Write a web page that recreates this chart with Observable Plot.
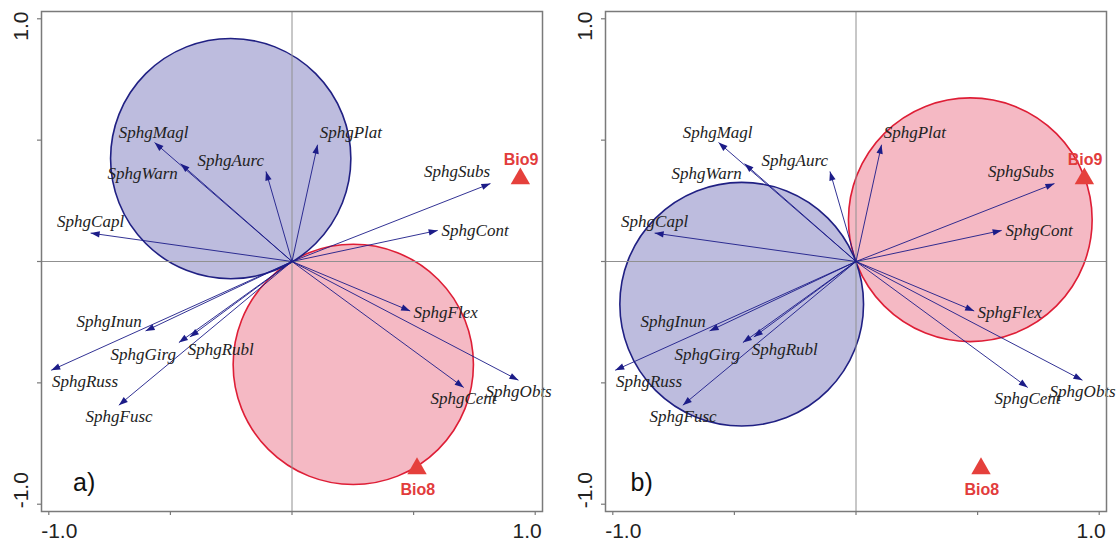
<!DOCTYPE html>
<html>
<head>
<meta charset="utf-8">
<script src="https://cdn.jsdelivr.net/npm/d3@7"></script>
<script src="https://cdn.jsdelivr.net/npm/@observablehq/plot@0.6"></script>
<style>
  html, body { margin: 0; padding: 0; background: #fff; }
  #wrap { display: flex; flex-direction: row; width: 1118px; height: 543px; }
  #wrap svg { display: block; }
</style>
</head>
<body>
<div id="wrap"></div>
<script>
// Species (arrow) scores — same in both panels
const species = ["SphgMagl","SphgWarn","SphgAurc","SphgPlat","SphgCapl","SphgSubs","SphgCont","SphgFlex","SphgCent","SphgObts","SphgInun","SphgGirg","SphgRubl","SphgRuss","SphgFusc"];
const tipX = [-0.565,-0.458,-0.107,0.105,-0.828,0.816,0.599,0.486,0.706,0.931,-0.602,-0.465,-0.420,-0.990,-0.712];
const tipY = [0.490,0.403,0.371,0.481,0.117,0.321,0.128,-0.204,-0.519,-0.489,-0.286,-0.334,-0.311,-0.448,-0.592];
const labelX = [-0.569,-0.614,-0.252,0.242,-0.828,0.679,0.753,0.632,0.705,0.932,-0.752,-0.612,-0.293,-0.851,-0.711];
const labelY = [0.533,0.364,0.417,0.532,0.163,0.369,0.128,-0.209,-0.565,-0.537,-0.249,-0.382,-0.362,-0.496,-0.637];

// Environmental variables
const envNames = ["Bio9","Bio8"];
const envX = [0.939, 0.514];
const envY = [0.341, -0.853];
const envLabelX = [0.942, 0.517];
const envLabelY = [0.420, -0.942];

// Van Dobben circles per panel
const panelTags = ["a)", "b)"];
const circleKind = ["red", "blue"];
const circleCxA = [0.252, -0.252];
const circleCyA = [-0.424, 0.424];
const circleRA = [0.494, 0.494];
const circleCxB = [0.470, -0.470];
const circleCyB = [0.172, -0.176];
const circleRB = [0.501, 0.501];

// Axis ticks
const tickValues = [-1, -0.5, 0, 0.5, 1];
const tickLabels = ["-1.0", "1.0"];
const tickLabelValues = [-1, 1];

const DOMAIN = [-1.03, 1.03];
const NAVY = "#1c1c88";

const headSymbol = {
  draw(context) {
    context.moveTo(0, 0);
    context.lineTo(3.2, 9);
    context.lineTo(-3.2, 9);
    context.closePath();
  }
};

function panel(opts) {
  const W = 559, H = 543;
  const ml = opts.ml, mr = opts.mr, mt = 11, mb = 32;
  const k = (W - ml - mr) / (DOMAIN[1] - DOMAIN[0]);
  const idx = d3.range(species.length);
  const cidx = d3.range(circleKind.length);
  const eidx = d3.range(envNames.length);
  const cfill = {red: "#f5b9c4", blue: "#bdbcde"};
  const cstroke = {red: "#de1e36", blue: "#202083"};
  const axisFont = {fontFamily: "Liberation Sans", fontSize: 21, fill: "#222", textAnchor: "middle", lineAnchor: "middle"};
  return Plot.plot({
    width: W, height: H,
    marginLeft: ml, marginRight: mr, marginTop: mt, marginBottom: mb,
    x: {domain: DOMAIN, axis: null},
    y: {domain: DOMAIN, axis: null},
    r: {type: "linear", domain: [0, 1], range: [0, k]},
    style: {background: "white", overflow: "visible"},
    marks: [
      Plot.dot(cidx, {
        x: i => opts.cx[i], y: i => opts.cy[i], r: i => opts.r[i],
        fill: i => cfill[circleKind[i]], stroke: i => cstroke[circleKind[i]],
        strokeWidth: 1.6, fillOpacity: 1
      }),
      Plot.ruleX([0], {stroke: "#909090", strokeWidth: 1}),
      Plot.ruleY([0], {stroke: "#909090", strokeWidth: 1}),
      Plot.link(idx, {
        x1: 0, y1: 0, x2: i => tipX[i], y2: i => tipY[i],
        stroke: NAVY, strokeWidth: 1, strokeOpacity: 0.9
      }),
      Plot.dot(idx, {
        x: i => tipX[i], y: i => tipY[i],
        symbol: headSymbol, r: 3, fill: NAVY, stroke: "none",
        rotate: i => Math.atan2(tipX[i], tipY[i]) * 180 / Math.PI
      }),
      Plot.text(idx, {
        x: i => labelX[i], y: i => labelY[i], text: i => species[i],
        fontFamily: "Liberation Serif", fontStyle: "italic", fontSize: 17,
        fill: "#222", textAnchor: "middle", lineAnchor: "middle"
      }),
      Plot.dot(eidx, {
        x: i => envX[i], y: i => envY[i], symbol: "triangle", r: 7.2,
        fill: "#e5403c", stroke: "none"
      }),
      Plot.text(eidx, {
        x: i => envLabelX[i], y: i => envLabelY[i], text: i => envNames[i],
        fontFamily: "Liberation Sans", fontWeight: "bold", fontSize: 16,
        fill: "#e23c3c", textAnchor: "middle", lineAnchor: "middle"
      }),
      Plot.frame({stroke: "#7a7a7a", strokeWidth: 1.5}),
      Plot.axisX({ticks: tickValues, tickSize: 4, tickFormat: () => "", stroke: "#7a7a7a", strokeWidth: 1.2}),
      Plot.axisY({ticks: tickValues, tickSize: 4, tickFormat: () => "", stroke: "#7a7a7a", strokeWidth: 1.2}),
      Plot.text([0], {
        x: () => tickLabelValues[0], text: () => tickLabels[0], frameAnchor: "bottom",
        dx: 10.5, dy: 19.5, ...axisFont
      }),
      Plot.text([0], {
        x: () => tickLabelValues[1], text: () => tickLabels[1], frameAnchor: "bottom",
        dx: -8, dy: 19.5, ...axisFont
      }),
      Plot.text([0], {
        y: () => tickLabelValues[1], text: () => tickLabels[1], frameAnchor: "left",
        dx: -20, dy: 7.4, rotate: -90, ...axisFont
      }),
      Plot.text([0], {
        y: () => tickLabelValues[0], text: () => tickLabels[0], frameAnchor: "left",
        dx: -20, dy: -14, rotate: -90, ...axisFont
      }),
      Plot.text([opts.tag], {
        frameAnchor: "bottom-left", dx: opts.tagDx, dy: -28.5,
        fontFamily: "Liberation Sans", fontSize: 25, fill: "#111",
        textAnchor: "start", lineAnchor: "middle"
      })
    ]
  });
}

const wrap = document.getElementById("wrap");
wrap.appendChild(panel({ml: 41, mr: 17, cx: circleCxA, cy: circleCyA, r: circleRA, tag: panelTags[0], tagDx: 31.5}));
wrap.appendChild(panel({ml: 46, mr: 12, cx: circleCxB, cy: circleCyB, r: circleRB, tag: panelTags[1], tagDx: 25}));
</script>
</body>
</html>
